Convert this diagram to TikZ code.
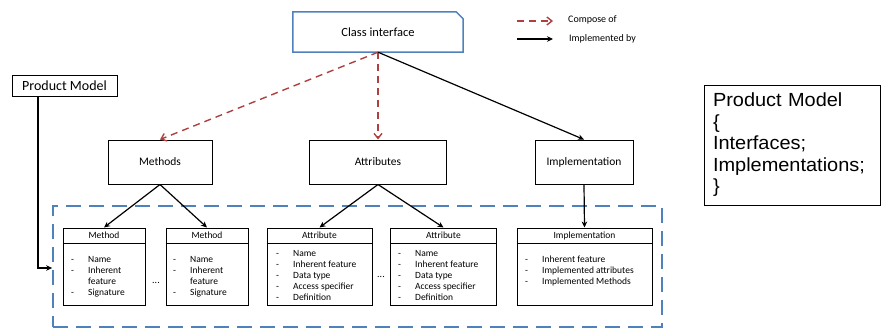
\documentclass[tikz,border=0pt]{standalone}
\usepackage{fontspec}
\setmainfont{Carlito}
\newfontfamily\arialf{Liberation Sans}[FakeStretch=1.05]
\usetikzlibrary{arrows.meta}
\definecolor{cblue}{RGB}{79,129,189}
\definecolor{cred}{RGB}{176,64,64}
\newcommand{\dsh}[1]{\makebox[17pt][l]{-}#1}
\newcommand{\cnt}[1]{\makebox[17pt][l]{}#1}
\newcommand{\boxitems}[4]{\foreach \x [count=\i] in {#4} {\node[itemtxt, name=#1\i] at (#2, {#3+11*(\i-1)}) {\x};}}
\begin{document}
\begin{tikzpicture}[x=1pt,y=-1pt,
  box/.style={draw=black, line width=1pt, inner sep=0pt, minimum height=44pt, font=\fontsize{11.5}{13}\selectfont},
  ibox/.style={draw=black, line width=1pt, inner sep=0pt, minimum height=77pt},
  hdr/.style={font=\fontsize{9.5}{11}\selectfont, inner sep=0pt},
  itemtxt/.style={font=\fontsize{9.5}{11}\selectfont, inner sep=0pt, anchor=base west},
  legtxt/.style={font=\fontsize{10}{12}\selectfont, inner sep=0pt, anchor=west},
  comp/.style={draw=cred, line width=1.4pt, dash pattern=on 7pt off 5pt, -{Straight Barb[length=5pt,width=8pt]}},
  implarrow/.style={draw=black, line width=1.2pt, -{Stealth[length=6pt,width=5.5pt]}},
  hline/.style={draw=black, line width=0.8pt}
]
\useasboundingbox (0,0) rectangle (888,329);

% class interface
\node[inner sep=0pt, minimum width=170pt, minimum height=40pt, font=\fontsize{12.5}{14}\selectfont] (ci) at (378,32) {Class interface};
\draw[cblue, line width=1.5pt] (ci.south west) -- (ci.north west) -- ([xshift=-7pt]ci.north east) -- ([yshift=-7pt]ci.north east) -- (ci.south east) -- cycle;

% legend
\coordinate (l1s) at (517,21); \coordinate (l1e) at (553,21);
\draw[comp] (l1s) -- (l1e);
\node[legtxt] (l1t) at (568,20) {Compose of};
\coordinate (l2s) at (517,39); \coordinate (l2e) at (553,39);
\draw[implarrow] (l2s) -- (l2e);
\node[legtxt] (l2t) at (569,39) {Implemented by};

% second level
\node[box, minimum width=104pt] (methods) at (160,162) {Methods};
\node[box, minimum width=137pt] (attrs) at (378,162) {Attributes};
\node[box, minimum width=98pt] (impl) at (584,162) {Implementation};

% product model small
\node[draw=black, line width=0.8pt, inner sep=0pt, minimum width=105pt, minimum height=21pt, font=\fontsize{14}{16}\selectfont] (pm) at (64.5,85.5) {Product Model};

% product model big
\node[draw=black, line width=0.8pt, inner xsep=9pt, inner ysep=0pt, text width=158pt, minimum height=120pt, align=left, font=\arialf\fontsize{19}{21.5}\selectfont] (pmbig) at (792,145) {Product Model\\\{\\Interfaces;\\Implementations;\\\}};

% group
\node[draw=cblue, line width=1.8pt, dash pattern=on 15pt off 8pt, minimum width=609pt, minimum height=121pt, inner sep=0pt] (grp) at (357.5,266.5) {};

% inner boxes
\node[ibox, minimum width=82pt] (m1) at (104,266.5) {};
\node[ibox, minimum width=82pt] (m2) at (207,266.5) {};
\node[ibox, minimum width=105pt] (a1) at (319.5,266.5) {};
\node[ibox, minimum width=106pt] (a2) at (443.5,266.5) {};
\node[ibox, minimum width=135pt] (il) at (584.5,266.5) {};

\foreach \b/\t in {m1/Method, m2/Method, a1/Attribute, a2/Attribute, il/Implementation} {
  \node[hdr] (\b h) at ([yshift=-8pt]\b.north) {\t};
  \draw[hline] ([yshift=-15.5pt]\b.north west) -- ([yshift=-15.5pt]\b.north east);
}

\boxitems{mA}{71}{262}{\dsh{Name},\dsh{Inherent},\cnt{feature},\dsh{Signature}}
\boxitems{mB}{173}{262}{\dsh{Name},\dsh{Inherent},\cnt{feature},\dsh{Signature}}
\boxitems{aA}{276}{256}{\dsh{Name},\dsh{Inherent feature},\dsh{Data type},\dsh{Access specifier},\dsh{Definition}}
\boxitems{aB}{398}{256}{\dsh{Name},\dsh{Inherent feature},\dsh{Data type},\dsh{Access specifier},\dsh{Definition}}
\boxitems{iL}{525}{262}{\dsh{Inherent feature},\dsh{Implemented attributes},\dsh{Implemented Methods}}

\node[inner sep=0pt, font=\fontsize{10}{12}\selectfont] (d1) at (156,283) {...};
\node[inner sep=0pt, font=\fontsize{10}{12}\selectfont] (d2) at (381,277) {...};

% connectors
\draw[comp] (ci.south) -- (methods.north);
\draw[comp] (ci.south) -- (attrs.north);
\draw[implarrow] (ci.south) -- (impl.north);
\draw[implarrow] (methods.south) -- (m1.north);
\draw[implarrow] (methods.south) -- (m2.north);
\draw[implarrow] (attrs.south) -- (a1.north);
\draw[implarrow] (attrs.south) -- (a2.north);
\draw[implarrow] (impl.south) -- (il.north);
\coordinate (pmturn) at (38,268);
\draw[implarrow] (pm.south -| pmturn) -- (pmturn) -- (grp.west |- pmturn);
\end{tikzpicture}
\end{document}
